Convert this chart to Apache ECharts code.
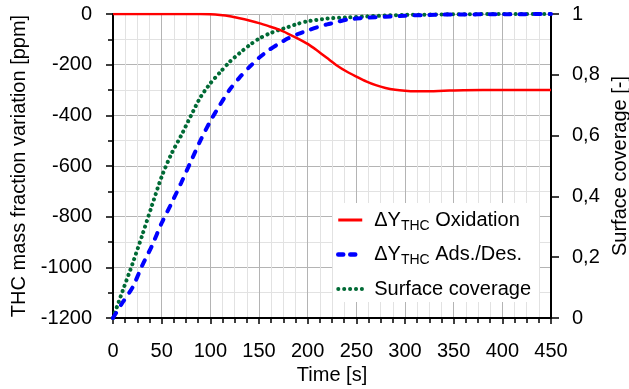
<!DOCTYPE html>
<html>
<head>
<meta charset="utf-8">
<script src="https://cdn.jsdelivr.net/npm/echarts@6/dist/echarts.min.js"></script>
<style>
html,body{margin:0;padding:0;background:#fff;}
#chart{width:629px;height:389px;}
</style>
</head>
<body>
<div id="chart"></div>
<script>
// ---- data ----
const seriesNames = ['ΔY_THC Oxidation', 'ΔY_THC Ads./Des.', 'Surface coverage'];

const oxTime   = [0, 50, 90, 100, 110, 120, 130, 140, 150, 160, 170, 180, 190, 200, 210, 220, 230, 240, 250, 260, 270, 280, 290, 300, 310, 320, 340, 360, 400, 450];
const oxValues = [0, 0, 0, -1, -4, -9, -17, -26, -36, -48, -61, -78, -97, -118, -145, -174, -203, -227, -247, -266, -281, -292, -299, -303, -305, -305, -303, -301, -300, -300];

const adsTime   = [0, 10, 20, 30, 40, 50, 60, 70, 80, 90, 100, 110, 120, 130, 140, 150, 160, 170, 180, 190, 200, 210, 220, 230, 240, 260, 280, 300, 320, 350, 400, 450];
const adsValues = [-1200, -1138, -1080, -993, -915, -825, -748, -667, -582, -498, -423, -358, -298, -251, -210, -173, -143, -118, -96, -79, -65, -52, -41, -32, -22, -15, -11, -7, -4, -2, -1, 0];

const covTime   = [0, 10, 20, 30, 40, 50, 60, 70, 80, 90, 100, 110, 120, 130, 140, 150, 160, 170, 180, 190, 200, 220, 240, 260, 280, 300, 350, 400, 450];
const covValues = [0, 0.09, 0.178, 0.272, 0.37, 0.465, 0.54, 0.6, 0.665, 0.727, 0.772, 0.808, 0.843, 0.871, 0.897, 0.919, 0.935, 0.947, 0.957, 0.968, 0.976, 0.985, 0.989, 0.992, 0.995, 0.997, 0.999, 1, 1];

const xTicks = [0, 50, 100, 150, 200, 250, 300, 350, 400, 450];
const leftTicks = [-1200, -1000, -800, -600, -400, -200, 0];
const rightTicks = [0, 0.2, 0.4, 0.6, 0.8, 1];

// ---- chart ----
const FONT = 'Liberation Sans, Arial, sans-serif';
const pairs = (t, v) => t.map((x, i) => [x, v[i]]);

const chart = echarts.init(document.getElementById('chart'), null, {renderer: 'canvas'});

const richLegend = {
  a: {fontSize: 20, fontFamily: FONT, color: '#000'},
  s: {fontSize: 14, fontFamily: FONT, color: '#000', padding: [12, 0, 0, 0]}
};

function legendFmt(name) {
  if (name.indexOf('_THC') >= 0) {
    const parts = name.split('_THC');
    return '{a|' + parts[0] + '}{s|THC}{a|' + parts[1] + '}';
  }
  return '{a|' + name + '}';
}

const option = {
  backgroundColor: '#fff',
  animation: false,
  grid: {left: 113, right: 78, top: 14, bottom: 71, outerBoundsMode: 'none', containLabel: false},
  legend: {
    data: [
      {name: seriesNames[0], lineStyle: {width: 3}},
      {name: seriesNames[1], lineStyle: {width: 4.5, type: [5, 7], cap: 'round'}},
      {name: seriesNames[2], lineStyle: {width: 4, type: [0.1, 5.8], cap: 'round'}}
    ],
    orient: 'vertical',
    left: 333,
    top: 203,
    padding: [7, 8, 3, 3],
    backgroundColor: '#fff',
    itemWidth: 24,
    itemHeight: 14,
    itemGap: 11.5,
    itemStyle: {color: 'transparent', borderWidth: 0, opacity: 0},
    formatter: legendFmt,
    textStyle: {rich: richLegend, padding: [0, 0, 0, 7]}
  },
  xAxis: {
    type: 'value',
    min: 0, max: 450, interval: 50,
    name: 'Time [s]',
    nameLocation: 'middle',
    nameGap: 45,
    nameTextStyle: {fontSize: 20, fontFamily: FONT, color: '#000'},
    axisLine: {show: true, onZero: false, lineStyle: {color: '#000', width: 2}},
    axisTick: {show: true, length: 6, lineStyle: {color: '#000', width: 1.5}},
    minorTick: {show: true, splitNumber: 4, length: 5, lineStyle: {color: '#000', width: 1.5}},
    axisLabel: {fontSize: 20, fontFamily: FONT, color: '#000', margin: 23,
      formatter: v => xTicks.indexOf(v) >= 0 ? String(v) : ''},
    splitLine: {show: true, lineStyle: {color: '#b4b4b4', width: 1}},
    minorSplitLine: {show: true, lineStyle: {color: '#e2e2e2', width: 1}}
  },
  yAxis: [
    {
      type: 'value',
      position: 'left',
      min: -1200, max: 0, interval: 200,
      name: 'THC mass fraction variation [ppm]',
      nameLocation: 'middle',
      nameGap: 74,
      nameTextStyle: {fontSize: 20, fontFamily: FONT, color: '#000'},
      axisLine: {show: true, onZero: false, lineStyle: {color: '#000', width: 2}},
      axisTick: {show: true, length: 7, lineStyle: {color: '#000', width: 1.5}},
      minorTick: {show: true, splitNumber: 2, length: 5, lineStyle: {color: '#000', width: 1.5}},
      axisLabel: {fontSize: 20, fontFamily: FONT, color: '#000', margin: 21,
        formatter: v => leftTicks.indexOf(v) >= 0 ? String(v) : ''},
      splitLine: {show: true, lineStyle: {color: '#b4b4b4', width: 1}},
      minorSplitLine: {show: true, lineStyle: {color: '#e2e2e2', width: 1}}
    },
    {
      type: 'value',
      position: 'right',
      min: 0, max: 1, interval: 0.2,
      name: 'Surface coverage [-]',
      nameLocation: 'middle',
      nameGap: 59,
      nameTextStyle: {fontSize: 20, fontFamily: FONT, color: '#000'},
      axisLine: {show: true, onZero: false, lineStyle: {color: '#000', width: 2}},
      axisTick: {show: true, length: 8, lineStyle: {color: '#000', width: 1.5}},
      axisLabel: {fontSize: 20, fontFamily: FONT, color: '#000', margin: 21,
        formatter: v => {
          const r = Math.round(v * 10) / 10;
          return rightTicks.indexOf(r) >= 0 ? String(r).replace('.', ',') : '';
        }},
      splitLine: {show: false}
    }
  ],
  series: [
    {
      name: seriesNames[2],
      type: 'line',
      yAxisIndex: 1,
      data: pairs(covTime, covValues),
      symbol: 'none',
      smooth: 0.25,
      lineStyle: {color: '#006a35', width: 4, type: [0.1, 5.6], cap: 'round'},
      itemStyle: {color: '#006a35'},
      z: 2
    },
    {
      name: seriesNames[1],
      type: 'line',
      yAxisIndex: 0,
      data: pairs(adsTime, adsValues),
      symbol: 'none',
      smooth: 0.25,
      lineStyle: {color: '#0000ff', width: 4, type: [6, 9], cap: 'round'},
      itemStyle: {color: '#0000ff'},
      z: 3
    },
    {
      name: seriesNames[0],
      type: 'line',
      yAxisIndex: 0,
      data: pairs(oxTime, oxValues),
      symbol: 'none',
      smooth: 0.25,
      lineStyle: {color: '#ff0000', width: 2.5},
      itemStyle: {color: '#ff0000'},
      z: 4
    }
  ]
};
chart.setOption(option);
</script>
</body>
</html>
